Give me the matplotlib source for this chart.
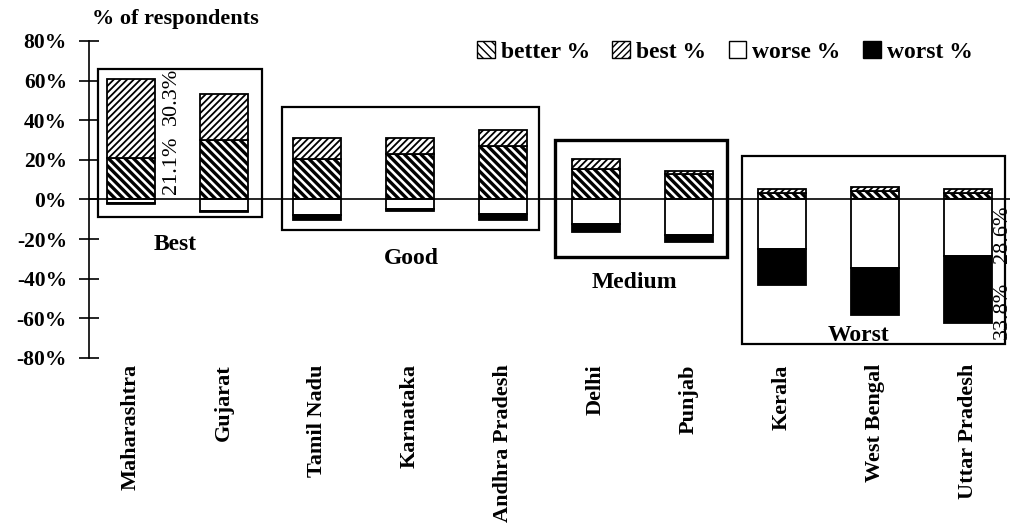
import numpy as np
import matplotlib.pyplot as plt
from matplotlib.patches import Rectangle, Patch

plt.rcParams['font.family'] = ['Liberation Serif', 'DejaVu Serif']

states = ['Maharashtra', 'Gujarat', 'Tamil Nadu', 'Karnataka', 'Andhra Pradesh',
          'Delhi', 'Punjab', 'Kerala', 'West Bengal', 'Uttar Pradesh']
better = [21.1, 30.0, 20.2, 22.7, 26.9, 15.2, 12.6, 3.3, 4.0, 3.4]
best = [39.5, 23.0, 10.6, 8.1, 7.9, 5.0, 1.7, 2.1, 2.3, 2.0]
worse = [2.0, 6.0, 8.1, 5.0, 7.6, 12.5, 17.8, 25.0, 34.5, 28.6]
worst = [0.3, 0.3, 2.3, 1.0, 2.8, 4.2, 3.9, 18.0, 24.1, 33.8]

groups = ['Best', 'Good', 'Medium', 'Worst']

fig = plt.figure(figsize=(10.13, 5.31), dpi=100)
ax = fig.add_axes([0.088, 0.326, 0.909, 0.597])

x = np.arange(len(states))
w = 0.52
better = np.array(better)
best = np.array(best)
worse = np.array(worse)
worst = np.array(worst)

def hatch_lw(bars, lw):
    for b in bars:
        try:
            b.set_hatch_linewidth(lw)
        except AttributeError:
            pass

with plt.rc_context({'hatch.linewidth': 2.4}):
    b1 = ax.bar(x, better, w, color='white', edgecolor='black', hatch='\\\\\\\\', lw=1.3)
    hatch_lw(b1, 2.4)
with plt.rc_context({'hatch.linewidth': 1.3}):
    b2 = ax.bar(x, best, w, bottom=better, color='white', edgecolor='black', hatch='/////', lw=1.3)
    hatch_lw(b2, 1.3)
ax.bar(x, -worse, w, color='white', edgecolor='black', lw=1.3)
ax.bar(x, -worst, w, bottom=-worse, color='black', edgecolor='black', lw=1.3)

ax.axhline(0, color='black', lw=1.2)

# group boxes
boxes = [(-0.355, 1.41, -9, 66, 1.6), (1.62, 4.39, -15.6, 46.5, 1.6),
         (4.56, 6.41, -29, 30, 2.4), (6.57, 9.40, -73, 22, 1.6)]
label_pos = [(0.47, -23), (3.01, -30), (5.41, -42), (7.82, -68.5)]
for (x0, x1, y0, y1, lw), g, (lx, ly) in zip(boxes, groups, label_pos):
    ax.add_patch(Rectangle((x0, y0), x1 - x0, y1 - y0, fill=False, ec='black', lw=lw, clip_on=False))
    ax.text(lx, ly, g, ha='center', va='center', fontsize=17, fontweight='bold')

ax.text(0.44, 17, '21.1%', rotation=90, ha='center', va='center', fontsize=16)
ax.text(0.44, 52, '30.3%', rotation=90, ha='center', va='center', fontsize=16)
ax.text(9.37, -17.7, '28.6%', rotation=90, ha='center', va='center', fontsize=16)
ax.text(9.37, -56, '33.8%', rotation=90, ha='center', va='center', fontsize=16)

ax.set_xlim(-0.45, 9.45)
ax.set_ylim(-80, 80)
ax.set_yticks(np.arange(-80, 81, 20))
ax.set_yticklabels([f'{v}%' for v in range(-80, 81, 20)], fontsize=15.5, fontweight='bold')
ax.tick_params(axis='y', direction='inout', length=14, width=1.2, pad=9)
for s in ['top', 'right', 'bottom']:
    ax.spines[s].set_visible(False)
ax.spines['left'].set_linewidth(1.2)
ax.set_xticks(x)
ax.set_xticklabels(states, rotation=90, fontsize=16, fontweight='bold', va='top')
ax.tick_params(axis='x', length=0, pad=0)
for lab in ax.get_xticklabels():
    lab.set_y(-0.02)

fig.text(0.091, 0.965, '% of respondents', fontsize=16, fontweight='bold', va='center')

handles = [Patch(fc='white', ec='black', hatch='\\\\\\\\'), Patch(fc='white', ec='black', hatch='/////'),
           Patch(fc='white', ec='black'), Patch(fc='black', ec='black')]
fig.legend(handles, ['better %', 'best %', 'worse %', 'worst %'], ncol=4, frameon=False,
           loc='center right', bbox_to_anchor=(0.96, 0.902), borderpad=0, borderaxespad=0,
           handlelength=0.75, handleheight=0.75, handletextpad=0.25, columnspacing=0.95,
           prop={'weight': 'bold', 'size': 17})

fig.savefig('out.png', dpi=100)
